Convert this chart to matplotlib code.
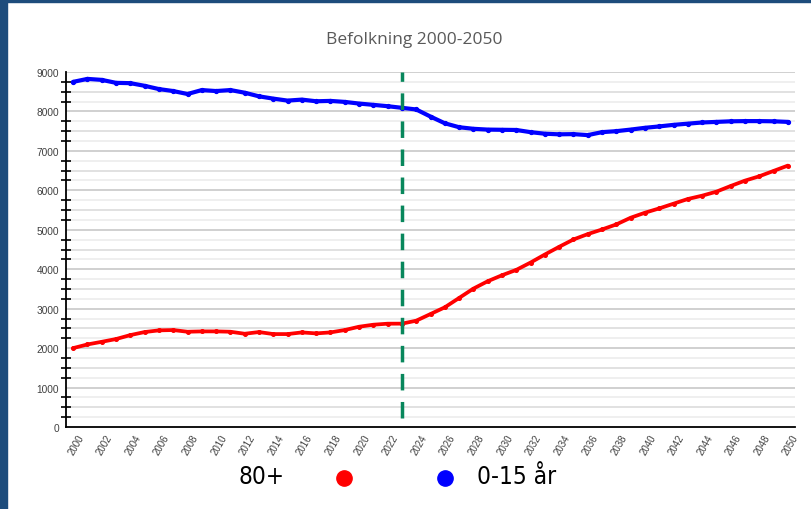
import matplotlib
matplotlib.use("Agg")
import matplotlib.pyplot as plt
import matplotlib.transforms as mtransforms
from matplotlib.patches import Rectangle
from matplotlib.lines import Line2D
import numpy as np

plt.rcParams["lines.scale_dashes"] = False

years = list(range(2000, 2051))
age_80_plus = [2000, 2093, 2160, 2230, 2330, 2407, 2450, 2458, 2415, 2424,
               2424, 2415, 2364, 2407, 2356, 2356, 2398, 2373, 2398, 2458,
               2542, 2593, 2619, 2620, 2695, 2864, 3034, 3271, 3508, 3695,
               3847, 3983, 4169, 4373, 4568, 4754, 4890, 5008, 5136, 5305,
               5432, 5542, 5661, 5780, 5864, 5966, 6110, 6246, 6356, 6492, 6627]
age_0_15 = [8750, 8825, 8800, 8725, 8717, 8650, 8567, 8517, 8442, 8542,
            8517, 8542, 8475, 8383, 8325, 8275, 8300, 8258, 8267, 8242,
            8200, 8167, 8133, 8092, 8050, 7870, 7700, 7600, 7560, 7540,
            7535, 7530, 7475, 7435, 7420, 7425, 7400, 7475, 7500, 7540,
            7585, 7620, 7660, 7690, 7720, 7735, 7750, 7755, 7755, 7750, 7735]
divider_year = 2023
title = "Befolkning 2000-2050"
legend_labels = ["80+", "0-15 år"]
y_ticks = list(range(0, 10000, 1000))
x_ticks = list(range(2000, 2051, 2))

W, H = 811, 510
fig = plt.figure(figsize=(W / 100, H / 100), dpi=100)
fig.patch.set_facecolor("white")

# dark blue frame
frame_col = "#1d4c7c"
fig.patches.append(Rectangle((0, 0), 7 / W, 1, transform=fig.transFigure,
                             color=frame_col, zorder=0))
fig.patches.append(Rectangle((0, 1 - 3 / H), 1, 3 / H, transform=fig.transFigure,
                             color=frame_col, zorder=0))

left, right, top, bottom = 66, 795, 73, 428
ax = fig.add_axes([left / W, 1 - bottom / H, (right - left) / W, (bottom - top) / H])
ax.set_xlim(1999.5, 2050.5)
ax.set_ylim(0, 9000)

# gridlines
for v in np.arange(250, 9001, 250):
    if v % 1000 == 0:
        c = "#c8c8c8"
    elif v % 500 == 0:
        c = "#dcdcdc"
    else:
        c = "#ececec"
    ax.axhline(v, color=c, lw=1.2, zorder=0)

ax.plot(years, age_0_15, color="#0000ff", lw=3.0, marker="o", ms=2.8,
        solid_capstyle="round", zorder=3)
ax.plot(years, age_80_plus, color="#ff0000", lw=2.7, marker="o", ms=2.6,
        solid_capstyle="round", zorder=3)

ax.plot([divider_year, divider_year], [230, 9000], color="#08875c", lw=2.5,
        dashes=(11.9, 8.3), solid_capstyle="butt", zorder=4)

for s in ["top", "right"]:
    ax.spines[s].set_visible(False)
ax.spines["left"].set_linewidth(1.3)
ax.spines["bottom"].set_linewidth(1.3)

ax.set_yticks(y_ticks)
ax.set_yticklabels([str(v) for v in y_ticks], fontsize=7.3, color="#404040",
                   family="Liberation Sans")
ax.set_yticks([v for v in np.arange(250, 9000, 250) if v % 1000 != 0], minor=True)
ax.tick_params(axis="y", which="major", length=0, pad=5)
ax.tick_params(axis="y", which="minor", length=7, width=1.2, direction="inout",
               color="black")

ax.set_xticks(x_ticks)
ax.set_xticklabels([str(v) for v in x_ticks], rotation=60, fontsize=7,
                   color="#404040", family="Liberation Sans", ha="right",
                   rotation_mode="anchor")
ax.tick_params(axis="x", length=0, pad=4)
shift = mtransforms.ScaledTranslation(4 / 100, 0, fig.dpi_scale_trans)
for lbl in ax.get_xticklabels():
    lbl.set_transform(lbl.get_transform() + shift)

fig.text(414 / W, 1 - 40 / H, title, ha="center", va="center", fontsize=12.5,
         color="#595959", family="Open Sans")

# legend
leg_font = dict(fontsize=17.5, color="black", family="DejaVu Sans",
                stretch="condensed")
fig.text(261 / W, 1 - 477 / H, legend_labels[0], ha="center", va="center", **leg_font)
fig.text(517 / W, 1 - 477 / H, legend_labels[1], ha="center", va="center", **leg_font)
fig.lines.append(Line2D([344 / W], [1 - 479 / H], transform=fig.transFigure,
                        marker="o", ms=11, color="#ff0000", ls="none"))
fig.lines.append(Line2D([445 / W], [1 - 479 / H], transform=fig.transFigure,
                        marker="o", ms=11, color="#0000ff", ls="none"))

fig.savefig("out.png", dpi=100, facecolor="white")
